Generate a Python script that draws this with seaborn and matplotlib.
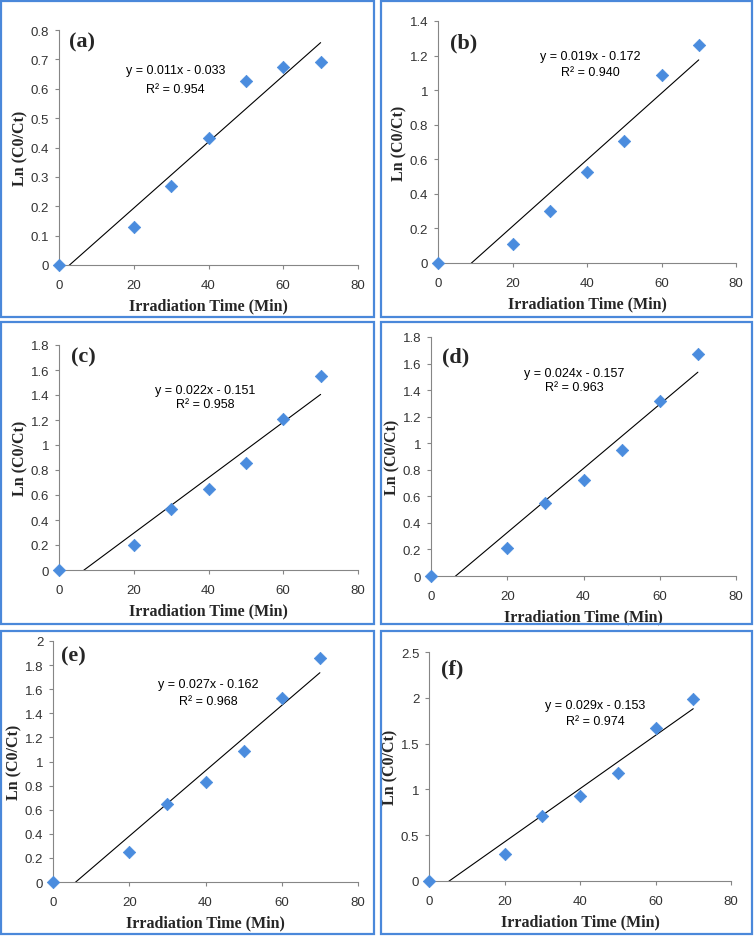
import numpy as np
import pandas as pd
import matplotlib
matplotlib.use('Agg')
import matplotlib.pyplot as plt
import seaborn as sns
from matplotlib.patches import Rectangle

sns.set_style('white')
plt.rcParams['font.family'] = ['Liberation Sans', 'DejaVu Sans']

time_min = [0, 20, 30, 40, 50, 60, 70]

ln_a = [0, 0.128, 0.268, 0.433, 0.625, 0.674, 0.692]
ln_b = [0, 0.110, 0.300, 0.525, 0.705, 1.085, 1.263]
ln_c = [0, 0.200, 0.490, 0.645, 0.860, 1.205, 1.550]
ln_d = [0, 0.210, 0.550, 0.725, 0.950, 1.320, 1.675]
ln_e = [0, 0.245, 0.645, 0.830, 1.090, 1.525, 1.855]
ln_f = [0, 0.300, 0.705, 0.925, 1.180, 1.665, 1.990]

panel_labels = ['(a)', '(b)', '(c)', '(d)', '(e)', '(f)']
equations = ['y = 0.011x - 0.033', 'y = 0.019x - 0.172', 'y = 0.022x - 0.151',
             'y = 0.024x - 0.157', 'y = 0.027x - 0.162', 'y = 0.029x - 0.153']
r_squared = ['R² = 0.954', 'R² = 0.940', 'R² = 0.958',
             'R² = 0.963', 'R² = 0.968', 'R² = 0.974']
y_max = [0.8, 1.4, 1.8, 1.8, 2.0, 2.5]
y_step = [0.1, 0.2, 0.2, 0.2, 0.2, 0.5]
series = [ln_a, ln_b, ln_c, ln_d, ln_e, ln_f]

W, H = 756, 937
fig = plt.figure(figsize=(W / 100, H / 100), dpi=100)

# axes boxes in pixels: left, top, right, bottom
ax_px = [(59, 31, 358, 266), (438, 22, 736, 264),
         (59, 346, 358, 571), (431, 338, 736, 577),
         (53, 642, 358, 883), (429, 653, 731, 882)]
# blue panel frames in pixels
frame_px = [(1, 2, 374, 318), (381, 2, 752, 318),
            (1, 323, 374, 625), (381, 323, 752, 625),
            (1, 632, 374, 935), (381, 632, 752, 935)]
eq_pos = [(0.39, 0.83, 0.75), (0.51, 0.855, 0.79), (0.49, 0.80, 0.74),
          (0.47, 0.85, 0.79), (0.51, 0.82, 0.75), (0.55, 0.77, 0.70)]
lab_pos = [(0.035, 0.95), (0.04, 0.91), (0.04, 0.95),
           (0.035, 0.92), (0.025, 0.94), (0.04, 0.93)]

blue = '#4A88DA'
marker_blue = '#4A8CDE'
serif = ['Liberation Serif', 'DejaVu Serif']

for i in range(6):
    l, t, r, b = ax_px[i]
    ax = fig.add_axes([l / W, 1 - b / H, (r - l) / W, (b - t) / H])
    df = pd.DataFrame({'t': time_min, 'y': series[i]})
    sns.regplot(data=df, x='t', y='y', ax=ax, scatter=False, ci=None,
                line_kws={'color': 'black', 'lw': 0.8})
    sns.scatterplot(data=df, x='t', y='y', ax=ax, marker='D', s=40,
                    color=marker_blue, edgecolor=marker_blue, zorder=3, clip_on=False)
    ax.set_xlim(0, 80)
    ax.set_ylim(0, y_max[i])
    ax.set_xticks(np.arange(0, 81, 20))
    yt = np.round(np.arange(0, y_max[i] + 1e-9, y_step[i]), 2)
    ax.set_yticks(yt)
    ax.set_yticklabels([f'{v:g}' for v in yt])
    for s in ['top', 'right']:
        ax.spines[s].set_visible(False)
    for s in ['left', 'bottom']:
        ax.spines[s].set_color('#868686')
        ax.spines[s].set_linewidth(0.8)
    ax.tick_params(axis='both', direction='out', length=3, width=0.8,
                   color='#868686', labelsize=9.5, labelcolor='#333333', pad=4,
                   left=True, bottom=True)
    ax.tick_params(axis='x', pad=7)
    ax.set_xlabel('Irradiation Time (Min)', family=serif, fontweight='bold',
                  fontsize=11.5, labelpad=5)
    ax.set_ylabel('Ln (C0/Ct)', family=serif, fontweight='bold',
                  fontsize=11.5, labelpad=2)
    ex, ey1, ey2 = eq_pos[i]
    ax.text(ex, ey1, equations[i], transform=ax.transAxes, ha='center',
            va='center', fontsize=9, color='black')
    ax.text(ex, ey2, r_squared[i], transform=ax.transAxes, ha='center',
            va='center', fontsize=9, color='black')
    lx, ly = lab_pos[i]
    ax.text(lx, ly, panel_labels[i], transform=ax.transAxes, ha='left',
            va='center', fontsize=16, fontweight='bold', family=serif)

    fl, ft, fr, fb = frame_px[i]
    fig.patches.append(Rectangle((fl / W, 1 - fb / H), (fr - fl) / W, (fb - ft) / H,
                                 transform=fig.transFigure, fill=False,
                                 edgecolor=blue, lw=1.6))

fig.savefig('out.png', dpi=100)
